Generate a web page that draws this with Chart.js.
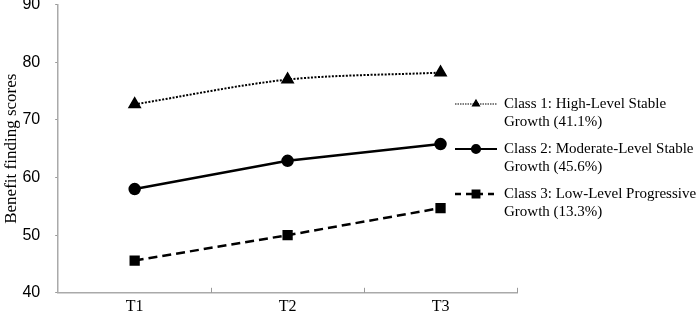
<!DOCTYPE html>
<html>
<head>
<meta charset="utf-8">
<script src="https://cdn.jsdelivr.net/npm/chart.js@4/dist/chart.umd.min.js"></script>
<style>
  html, body { margin: 0; padding: 0; background: #fff; overflow: hidden; }
  #marco { width: 696px; height: 315px; position: relative; overflow: hidden; }
  #wrap { width: 696px; height: 326px; position: absolute; left: 0; top: -6px; }
</style>
</head>
<body>
<div id="marco"><div id="wrap"><canvas id="grafico"></canvas></div></div>
<script>
// Datos
const tiempos = ["T1", "T2", "T3"];
const clase1 = [72.7, 77.0, 78.2];
const clase2 = [58.0, 62.9, 65.8];
const clase3 = [45.6, 50.0, 54.7];
const nombres = [
  ["Class 1: High-Level Stable", "Growth (41.1%)"],
  ["Class 2: Moderate-Level Stable", "Growth (45.6%)"],
  ["Class 3: Low-Level Progressive", "Growth (13.3%)"]
];
const yTicks = [40, 50, 60, 70, 80, 90];

const serif = "'Liberation Serif', 'Times New Roman', serif";
const sans = "'Liberation Sans', Arial, sans-serif";
const desplazo = 6; // el canvas sube 6px

// Marcas del eje X hacia adentro, entre categorias
const marcasX = {
  id: "marcasX",
  afterDraw(chart) {
    const area = chart.chartArea;
    const n = tiempos.length;
    const paso = area.width / n;
    const c = chart.ctx;
    c.save();
    c.strokeStyle = "#999";
    c.lineWidth = 1;
    for (let k = 1; k <= n; k++) {
      const x = Math.round(area.left + k * paso) + 0.5;
      c.beginPath();
      c.moveTo(x, area.bottom);
      c.lineTo(x, area.bottom - 5);
      c.stroke();
    }
    c.restore();
  }
};

// Leyenda dibujada a mano dentro del area
const leyendaPlugin = {
  id: "leyenda",
  afterDraw(chart) {
    const c = chart.ctx;
    const x0 = 455, x1 = 497, xt = 504;
    const filas = [104, 149, 194];
    chart.data.datasets.forEach((ds, i) => {
      const y = filas[i] + desplazo;
      c.save();
      c.strokeStyle = "#000";
      c.lineWidth = ds.legendWidth;
      c.setLineDash(ds.legendDash || []);
      c.beginPath();
      c.moveTo(x0, y);
      c.lineTo(x1, y);
      c.stroke();
      c.setLineDash([]);
      c.fillStyle = "#000";
      Chart.helpers.drawPoint(c, { pointStyle: ds.pointStyle, radius: ds.legendRadius, rotation: 0, borderWidth: 1 }, (x0 + x1) / 2, y);
      c.font = "15px " + serif;
      c.textBaseline = "middle";
      c.textAlign = "left";
      c.fillText(nombres[i][0], xt, y);
      c.fillText(nombres[i][1], xt, y + 18);
      c.restore();
    });
  }
};

const ctx = document.getElementById("grafico").getContext("2d");
new Chart(ctx, {
  type: "line",
  data: {
    labels: tiempos,
    datasets: [
      {
        label: nombres[0].join(" "),
        data: clase1,
        borderColor: "#000",
        backgroundColor: "#000",
        borderWidth: 2,
        borderDash: [2, 1.5],
        legendWidth: 1.2,
        legendDash: [1.5, 1],
        legendRadius: 4,
        tension: 0.3,
        pointStyle: "triangle",
        pointRadius: 6
      },
      {
        label: nombres[1].join(" "),
        data: clase2,
        borderColor: "#000",
        backgroundColor: "#000",
        borderWidth: 2.5,
        legendWidth: 2.2,
        legendRadius: 4,
        pointStyle: "circle",
        pointRadius: 5
      },
      {
        label: nombres[2].join(" "),
        data: clase3,
        borderColor: "#000",
        backgroundColor: "#000",
        borderWidth: 2.5,
        borderDash: [9, 5],
        legendWidth: 2.5,
        legendDash: [6, 5],
        legendRadius: 4.5,
        pointStyle: "rect",
        pointRadius: 5.5
      }
    ]
  },
  options: {
    responsive: true,
    maintainAspectRatio: false,
    animation: false,
    layout: { padding: { top: 0, right: 179, bottom: 0, left: 1 } },
    plugins: { legend: { display: false }, tooltip: { enabled: false } },
    scales: {
      x: {
        offset: true,
        grid: { display: false, drawTicks: false },
        border: { display: true, color: "#aaa", width: 1.5 },
        ticks: { color: "#000", font: { family: serif, size: 16 }, padding: 4 }
      },
      y: {
        min: yTicks[0],
        max: yTicks[yTicks.length - 1],
        afterBuildTicks: (s) => { s.ticks = yTicks.map(v => ({ value: v })); },
        grid: { drawOnChartArea: false, tickLength: 17, color: "#999", tickBorderDash: [0, 14, 3, 100] },
        border: { color: "#aaa", width: 1.5 },
        ticks: { color: "#000", font: { family: sans, size: 16 }, padding: 1 },
        title: {
          display: true,
          text: "Benefit finding scores",
          color: "#000",
          font: { family: serif, size: 17 },
          padding: { top: 0, bottom: 0 }
        }
      }
    }
  },
  plugins: [marcasX, leyendaPlugin]
});
</script>
</body>
</html>
